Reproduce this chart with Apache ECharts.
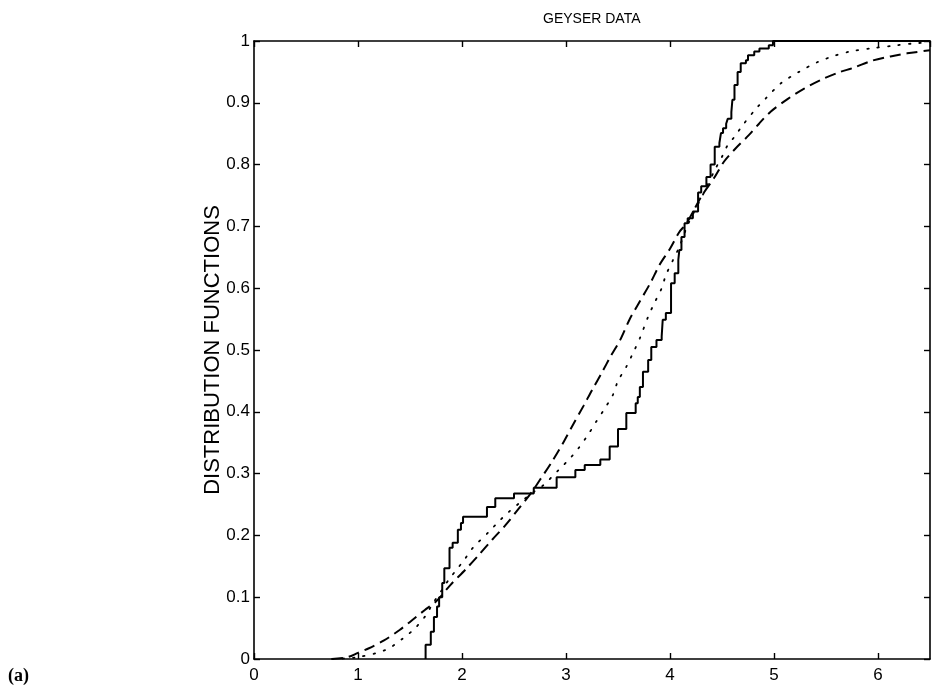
<!DOCTYPE html>
<html>
<head>
<meta charset="utf-8">
<script src="https://cdn.jsdelivr.net/npm/echarts@6/dist/echarts.min.js"></script>
<style>
html,body{margin:0;padding:0;background:#fff;}
#chart{width:933px;height:694px;}
</style>
</head>
<body>
<div id="chart"></div>
<script>
// Tick labels
const xTickLabels = ['0', '1', '2', '3', '4', '5', '6'];
const yTickLabels = ['0', '0.1', '0.2', '0.3', '0.4', '0.5', '0.6', '0.7', '0.8', '0.9', '1'];

// Empirical distribution function (step jumps): x positions and levels
const ecdfX = [1.65, 1.65, 1.70, 1.73, 1.76, 1.78, 1.81, 1.83, 1.88, 1.91, 1.96, 1.99, 2.01, 2.24, 2.32, 2.50, 2.69, 2.91, 3.09, 3.18, 3.33, 3.42, 3.50, 3.58, 3.67, 3.69, 3.71, 3.74, 3.79, 3.82, 3.87, 3.92, 3.93, 3.96, 4.01, 4.045, 4.08, 4.09, 4.11, 4.14, 4.17, 4.22, 4.27, 4.30, 4.35, 4.39, 4.43, 4.475, 4.49, 4.51, 4.54, 4.555, 4.59, 4.60, 4.62, 4.65, 4.68, 4.73, 4.75, 4.81, 4.86, 4.95, 4.99, 6.5];
const ecdfY = [0, 0.023, 0.044, 0.068, 0.085, 0.10, 0.123, 0.147, 0.18, 0.188, 0.209, 0.22, 0.23, 0.246, 0.26, 0.268, 0.277, 0.294, 0.306, 0.314, 0.323, 0.344, 0.372, 0.398, 0.414, 0.424, 0.44, 0.465, 0.484, 0.505, 0.516, 0.522, 0.549, 0.56, 0.608, 0.624, 0.646, 0.662, 0.683, 0.705, 0.713, 0.724, 0.755, 0.765, 0.78, 0.80, 0.829, 0.835, 0.851, 0.859, 0.866, 0.874, 0.885, 0.905, 0.929, 0.95, 0.964, 0.969, 0.977, 0.983, 0.988, 0.993, 1.0, 1.0];

// Dotted smooth estimate
const dottedX = [0.75, 1.0, 1.27, 1.43, 1.55, 1.65, 1.72, 1.80, 1.88, 1.95, 2.02, 2.10, 2.26, 2.35, 2.45, 2.55, 2.67, 2.78, 2.93, 3.04, 3.12, 3.22, 3.29, 3.375, 3.45, 3.50, 3.58, 3.65, 3.71, 3.79, 3.85, 3.92, 3.96, 4.03, 4.09, 4.17, 4.33, 4.43, 4.51, 4.55, 4.62, 4.70, 4.83, 4.92, 5.07, 5.24, 5.42, 5.58, 5.73, 5.93, 6.18, 6.34, 6.5];
const dottedY = [0, 0.003, 0.015, 0.033, 0.05, 0.07, 0.09, 0.11, 0.13, 0.145, 0.16, 0.179, 0.206, 0.222, 0.238, 0.252, 0.268, 0.281, 0.306, 0.325, 0.341, 0.365, 0.384, 0.406, 0.427, 0.45, 0.473, 0.497, 0.519, 0.554, 0.576, 0.60, 0.621, 0.646, 0.667, 0.702, 0.756, 0.791, 0.816, 0.83, 0.845, 0.864, 0.891, 0.907, 0.932, 0.95, 0.966, 0.976, 0.983, 0.988, 0.993, 0.996, 0.998];

// Dashed smooth estimate
const dashedX = [0.75, 0.9, 1.0, 1.1, 1.25, 1.4, 1.5, 1.64, 1.75, 1.89, 2.035, 2.16, 2.29, 2.42, 2.53, 2.67, 2.75, 2.86, 2.98, 3.07, 3.17, 3.25, 3.35, 3.43, 3.52, 3.61, 3.69, 3.81, 3.90, 4.0, 4.09, 4.16, 4.30, 4.43, 4.52, 4.63, 4.76, 4.86, 4.97, 5.13, 5.29, 5.45, 5.62, 5.77, 5.94, 6.12, 6.28, 6.5];
const dashedY = [0, 0.003, 0.01, 0.017, 0.03, 0.047, 0.06, 0.079, 0.093, 0.12, 0.145, 0.168, 0.193, 0.217, 0.24, 0.27, 0.29, 0.318, 0.352, 0.38, 0.41, 0.435, 0.465, 0.49, 0.516, 0.549, 0.573, 0.608, 0.638, 0.664, 0.691, 0.705, 0.748, 0.78, 0.805, 0.826, 0.848, 0.867, 0.886, 0.906, 0.923, 0.937, 0.949, 0.957, 0.968, 0.975, 0.98, 0.985];

const zip = (xs, ys) => xs.map((x, i) => [x, ys[i]]);

const chart = echarts.init(document.getElementById('chart'), null, {renderer: 'canvas'});
const font = 'Liberation Sans, Arial, Helvetica, sans-serif';
const axisLineStyle = {color: '#000', width: 1.6};

const option = {
  backgroundColor: '#fff',
  animation: false,
  title: {
    text: 'GEYSER DATA',
    left: 538, top: 7,
    textStyle: {fontFamily: font, fontSize: 14, fontWeight: 'normal', color: '#000'}
  },
  grid: {left: 254, right: 3, top: 41, bottom: 35, containLabel: false},
  xAxis: [{
    type: 'value', min: 0, max: 6.5, interval: 1, position: 'bottom',
    axisLine: {show: true, onZero: false, lineStyle: axisLineStyle},
    axisTick: {show: true, inside: true, length: 6, lineStyle: {color: '#000', width: 1.4}},
    axisLabel: {show: true, margin: 8, showMaxLabel: false, fontFamily: font, fontSize: 17, color: '#000',
      formatter: v => { const i = Math.round(v); return (Math.abs(v - i) < 1e-6 && xTickLabels[i] !== undefined) ? xTickLabels[i] : ''; }},
    splitLine: {show: false}
  }, {
    type: 'value', min: 0, max: 6.5, interval: 1, position: 'top',
    axisLine: {show: true, onZero: false, lineStyle: axisLineStyle},
    axisTick: {show: true, inside: true, length: 6, lineStyle: {color: '#000', width: 1.4}},
    axisLabel: {show: false},
    splitLine: {show: false}
  }],
  yAxis: [{
    type: 'value', min: 0, max: 1, interval: 0.1, position: 'left',
    name: 'DISTRIBUTION FUNCTIONS', nameLocation: 'middle', nameRotate: 90, nameGap: 30,
    nameMoveOverlap: false,
    nameTextStyle: {fontFamily: font, fontSize: 22, color: '#000'},
    axisLine: {show: true, onZero: false, lineStyle: axisLineStyle},
    axisTick: {show: true, inside: true, length: 6, lineStyle: {color: '#000', width: 1.4}},
    axisLabel: {show: true, margin: 4, fontFamily: font, fontSize: 17, color: '#000',
      formatter: v => { const i = Math.round(v * 10); return yTickLabels[i] !== undefined ? yTickLabels[i] : ''; }},
    splitLine: {show: false}
  }, {
    type: 'value', min: 0, max: 1, interval: 0.1, position: 'right',
    axisLine: {show: true, onZero: false, lineStyle: axisLineStyle},
    axisTick: {show: true, inside: true, length: 6, lineStyle: {color: '#000', width: 1.4}},
    axisLabel: {show: false},
    splitLine: {show: false}
  }],
  graphic: [{
    type: 'text', left: 8, top: 667,
    style: {text: '(a)', fontFamily: 'Liberation Serif, DejaVu Serif, serif', fontSize: 18, fontWeight: 'bold', fill: '#000'}
  }],
  series: [{
    name: 'empirical', type: 'line', step: 'end', showSymbol: false, symbol: 'none',
    xAxisIndex: 0, yAxisIndex: 0,
    data: zip(ecdfX, ecdfY),
    lineStyle: {color: '#000', width: 2}
  }, {
    name: 'dotted', type: 'line', smooth: 0.3, showSymbol: false, symbol: 'none',
    xAxisIndex: 0, yAxisIndex: 0,
    data: zip(dottedX, dottedY),
    lineStyle: {color: '#000', width: 1.8, type: [1.5, 9], cap: 'round'}
  }, {
    name: 'dashed', type: 'line', smooth: 0.3, showSymbol: false, symbol: 'none',
    xAxisIndex: 0, yAxisIndex: 0,
    data: zip(dashedX, dashedY),
    lineStyle: {color: '#000', width: 2, type: [11, 6]}
  }]
};
chart.setOption(option);
</script>
</body>
</html>
